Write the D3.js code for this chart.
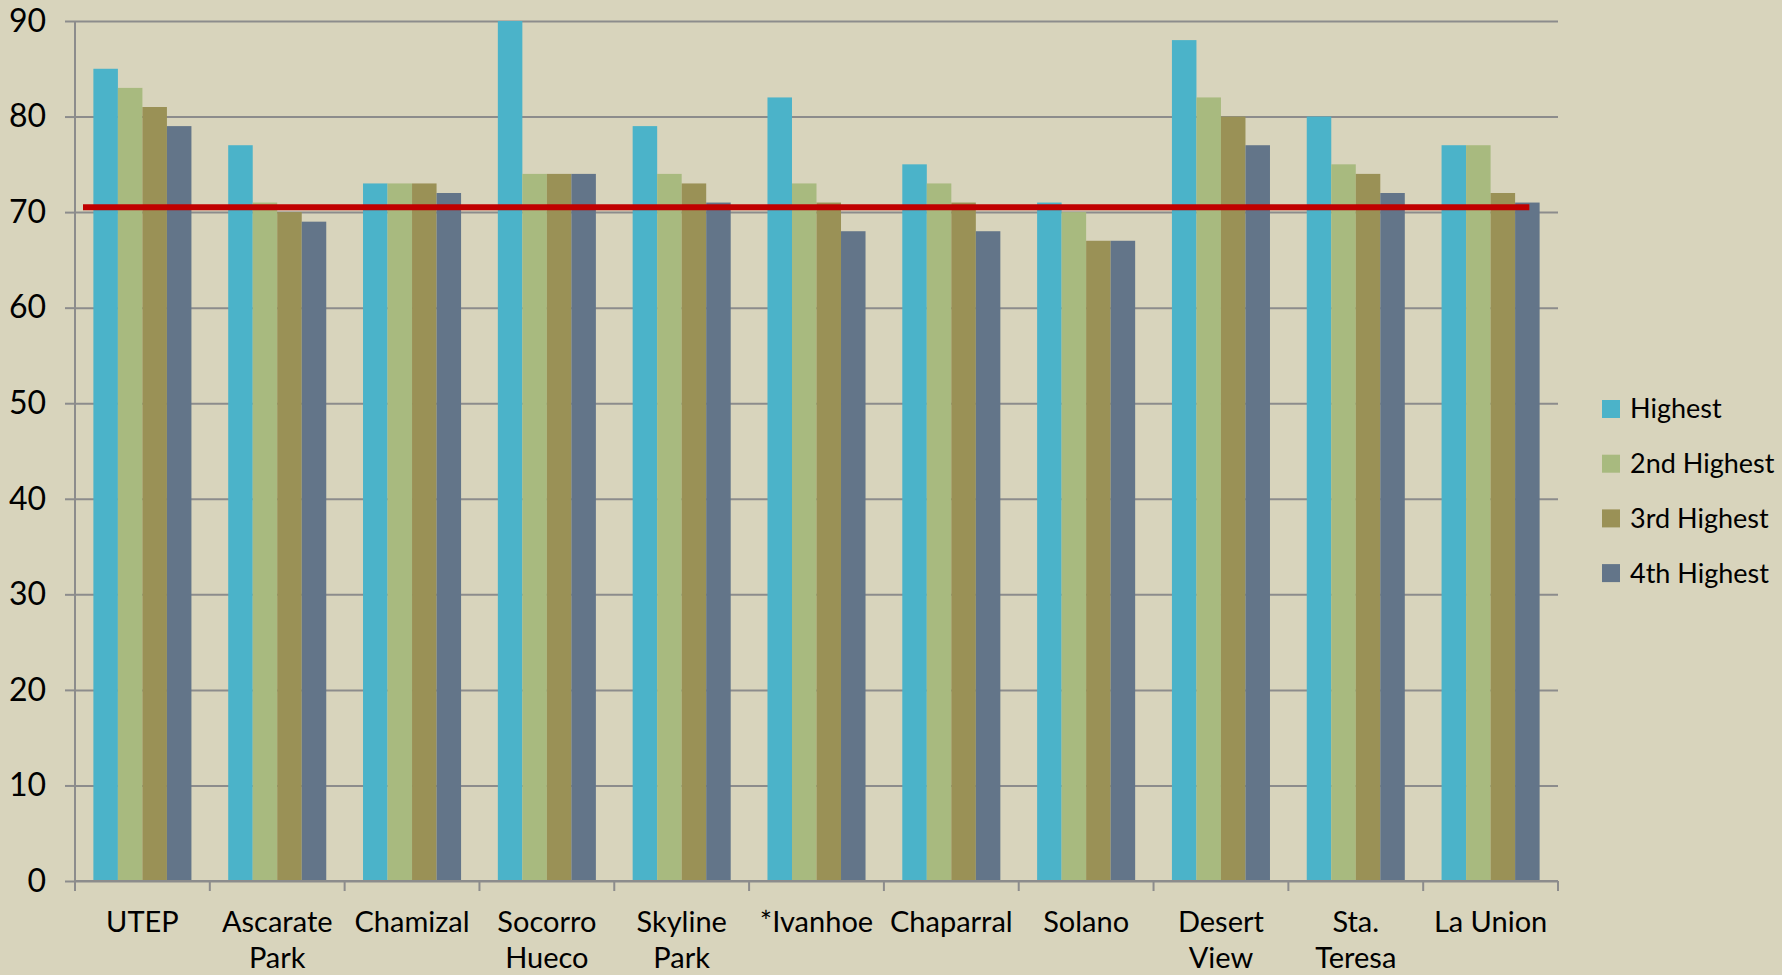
<!DOCTYPE html>
<html>
<head>
<meta charset="utf-8">
<script src="https://cdn.jsdelivr.net/npm/d3@7"></script>
<style>
  html, body { margin: 0; padding: 0; background: #d8d4bc; }
  svg { display: block; }
</style>
</head>
<body>
<div id="chart"></div>
<script>
const categories = ['UTEP', 'Ascarate Park', 'Chamizal', 'Socorro Hueco', 'Skyline Park', '*Ivanhoe', 'Chaparral', 'Solano', 'Desert View', 'Sta. Teresa', 'La Union']
const labelLines = [['UTEP'], ['Ascarate', 'Park'], ['Chamizal'], ['Socorro', 'Hueco'], ['Skyline', 'Park'], ['*Ivanhoe'], ['Chaparral'], ['Solano'], ['Desert', 'View'], ['Sta.', 'Teresa'], ['La Union']]
const seriesNames = ['Highest', '2nd Highest', '3rd Highest', '4th Highest']
const highest = [85, 77, 73, 90, 79, 82, 75, 71, 88, 80, 77]
const second = [83, 71, 73, 74, 74, 73, 73, 70, 82, 75, 77]
const third = [81, 70, 73, 74, 73, 71, 71, 67, 80, 74, 72]
const fourth = [79, 69, 72, 74, 71, 68, 68, 67, 77, 72, 71]
const yTicks = [0, 10, 20, 30, 40, 50, 60, 70, 80, 90]
const standard = 70.5
const colors = ['#4bb3c9', '#a8ba7f', '#9a9156', '#637589']

const W = 1782
const H = 975
const plotLeft = 75
const plotRight = 1558
const plotTop = 21
const plotBottom = 881
const font = 'Lato, "Open Sans", sans-serif'

const svg = d3.select('#chart').append('svg')
  .attr('width', W)
  .attr('height', H)

svg.append('rect').attr('width', W).attr('height', H).attr('fill', '#d8d4bc')

const y = d3.scaleLinear().domain([0, 90]).range([plotBottom, plotTop])
const x0 = d3.scaleBand().domain(categories).range([plotLeft, plotRight]).padding(0)
const bw = x0.bandwidth()
const barW = bw / 5.5
const x1 = d3.scaleBand().domain(seriesNames).range([barW * 0.75, barW * 4.75]).padding(0)

// gridlines + y axis
const yAxis = svg.append('g')
  .attr('transform', `translate(${plotLeft},0)`)
  .call(d3.axisLeft(y).tickValues(yTicks).tickSize(10).tickPadding(19).tickFormat(d3.format('d')))
yAxis.select('.domain').attr('stroke', '#8c8c8c').attr('stroke-width', 2)
  .attr('d', `M0,${plotTop}V${plotBottom}`)
yAxis.selectAll('.tick line').attr('stroke', '#8c8c8c').attr('stroke-width', 2)
yAxis.selectAll('.tick').append('line')
  .attr('x1', 0).attr('x2', plotRight - plotLeft)
  .attr('stroke', '#8c8c8c').attr('stroke-width', 2)
yAxis.selectAll('.tick text')
  .attr('font-family', font).attr('font-size', 32).attr('fill', '#000')

// bars
const series = [highest, second, third, fourth]
const groups = svg.append('g').selectAll('g')
  .data(categories)
  .join('g')
  .attr('transform', d => `translate(${x0(d)},0)`)

groups.selectAll('rect')
  .data((d, i) => seriesNames.map((s, j) => ({ s, v: series[j][i], c: colors[j] })))
  .join('rect')
  .attr('x', d => x1(d.s))
  .attr('width', x1.bandwidth())
  .attr('y', d => y(d.v))
  .attr('height', d => y(0) - y(d.v))
  .attr('fill', d => d.c)

// x axis
const xAxis = svg.append('g')
  .attr('transform', `translate(0,${plotBottom})`)
xAxis.append('line')
  .attr('x1', plotLeft).attr('x2', plotRight)
  .attr('stroke', '#8c8c8c').attr('stroke-width', 2)
const bounds = categories.map(c => x0(c)).concat([plotRight])
xAxis.selectAll('.xt')
  .data(bounds)
  .join('line')
  .attr('x1', d => d).attr('x2', d => d)
  .attr('y1', 0).attr('y2', 10)
  .attr('stroke', '#8c8c8c').attr('stroke-width', 2)

xAxis.selectAll('.lbl')
  .data(categories)
  .join('text')
  .attr('text-anchor', 'middle')
  .attr('font-family', font)
  .attr('font-size', 29)
  .attr('fill', '#000')
  .each(function (d, i) {
    const t = d3.select(this)
    labelLines[i].forEach((ln, k) => {
      t.append('tspan')
        .attr('x', x0(d) + bw / 2)
        .attr('y', 51 + k * 36)
        .text(ln)
    })
  })

// standard line
svg.append('line')
  .attr('x1', plotLeft + 8)
  .attr('x2', x0(categories[categories.length - 1]) + x1(seriesNames[3]) + x1.bandwidth() * 0.58)
  .attr('y1', y(standard)).attr('y2', y(standard))
  .attr('stroke', '#c00000')
  .attr('stroke-width', 6)

// legend
const legend = svg.append('g').attr('transform', 'translate(1602,409)')
seriesNames.forEach((s, i) => {
  const g = legend.append('g').attr('transform', `translate(0,${i * 54.7})`)
  g.append('rect').attr('x', 0).attr('y', -9).attr('width', 18).attr('height', 18).attr('fill', colors[i])
  g.append('text')
    .attr('x', 28).attr('y', 0).attr('dy', '0.35em')
    .attr('font-family', font).attr('font-size', 27).attr('fill', '#000')
    .text(s)
})
</script>
</body>
</html>
